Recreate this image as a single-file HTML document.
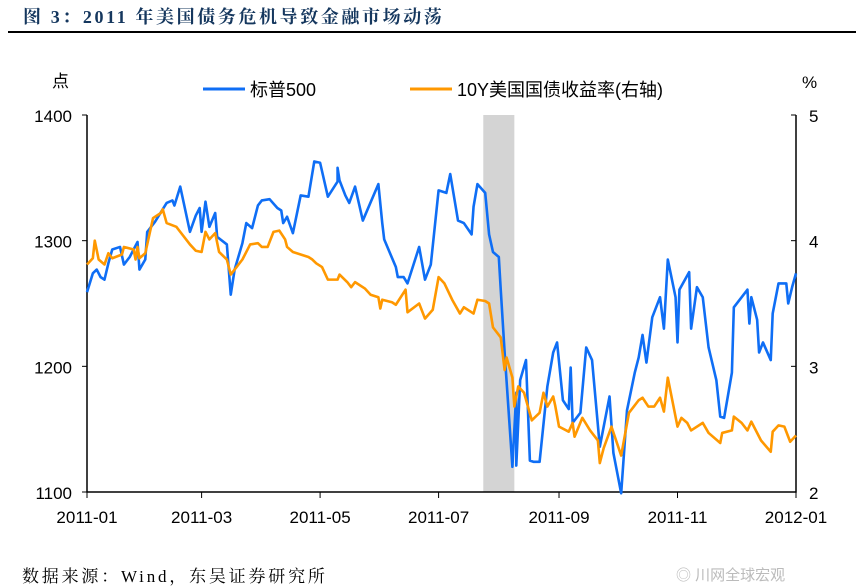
<!DOCTYPE html>
<html><head><meta charset="utf-8"><style>
body{margin:0;width:856px;height:588px;background:#fff;overflow:hidden;font-family:"Liberation Sans","Noto Sans CJK SC",sans-serif;}
#title{position:absolute;left:23px;top:3px;font:bold 18px "Liberation Serif","Noto Serif CJK SC",serif;letter-spacing:2.6px;color:#15375e;white-space:nowrap;}
#rule{position:absolute;left:8px;top:31px;width:848px;height:2px;background:#000;}
#src{position:absolute;left:22px;top:562px;font:17px "Liberation Serif","Noto Serif CJK SC",serif;letter-spacing:2.8px;color:#000;white-space:nowrap;}
#wm{position:absolute;left:676px;top:564px;font-size:15px;color:#bbb;}
</style></head><body>
<div id="title">图 3：2011 年美国债务危机导致金融市场动荡</div>
<div id="rule"></div>
<svg id="chart" width="856" height="588" style="position:absolute;left:0;top:0"></svg>
<div id="src">数据来源：Wind，东吴证券研究所</div>
<div id="wm">◎ 川网全球宏观</div>
<script>
const spxDays=[0,3,5,7,9,11,13,17,19,22,26,27,30,31,35,41,44,45,48,53,56,58,59,61,63,66,67,72,74,76,80,82,85,88,90,94,98,100,101,103,106,110,114,117,120,124,129,129,130,133,135,138,142,150,152,153,159,160,163,165,171,174,177,181,185,187,191,194,198,199,201,205,207,209,212,213,215,219,221,221,223,226,228,230,233,237,240,242,245,248,249,250,254,257,260,264,269,271,275,278,282,284,286,288,290,291,295,297,299,303,304,305,310,311,314,317,320,324,326,328,332,333,340,341,342,345,346,348,352,353,356,360,361,363,365];
const spxVals=[1259,1274,1277,1271,1269,1282,1293,1295,1281,1287,1299,1277,1285,1307,1315,1330,1332,1328,1343,1307,1320,1326,1307,1331,1311,1322,1303,1297,1257,1277,1298,1314,1310,1328,1332,1333,1326,1324,1314,1319,1306,1336,1335,1363,1362,1335,1347,1358,1348,1336,1330,1343,1316,1345,1314,1301,1279,1271,1271,1266,1295,1269,1281,1340,1338,1353,1316,1314,1305,1327,1345,1338,1305,1291,1287,1261,1211,1120,1179,1121,1189,1205,1125,1124,1124,1184,1211,1219,1173,1166,1199,1155,1163,1215,1205,1136,1176,1131,1099,1165,1195,1207,1225,1203,1227,1239,1255,1230,1285,1255,1219,1261,1275,1230,1263,1255,1215,1189,1160,1159,1195,1247,1261,1234,1255,1237,1211,1219,1205,1242,1266,1266,1250,1263,1274];
const ylDays=[0,3,4,6,9,11,13,18,19,24,25,26,27,30,34,38,39,41,46,48,53,56,59,61,63,66,68,72,74,77,80,84,88,90,93,96,99,102,103,106,110,114,116,118,121,124,129,130,134,136,138,143,146,150,151,152,157,159,164,165,171,174,178,181,184,188,192,194,199,201,205,207,209,213,215,216,219,220,222,225,229,233,235,237,240,241,243,248,250,251,255,259,263,264,266,270,275,279,284,286,289,292,295,297,299,304,306,309,311,317,320,326,327,332,333,337,340,342,347,352,353,356,359,362,365];
const ylVals=[3.81,3.86,4.00,3.85,3.81,3.90,3.86,3.89,3.95,3.93,3.85,3.95,3.86,3.90,4.18,4.22,4.25,4.14,4.11,4.07,3.97,3.92,3.91,4.07,4.01,4.06,3.91,3.85,3.73,3.79,3.85,3.97,3.98,3.95,3.95,4.07,4.08,4.01,3.95,3.91,3.89,3.87,3.85,3.82,3.79,3.69,3.69,3.73,3.67,3.63,3.67,3.62,3.57,3.55,3.46,3.53,3.51,3.49,3.61,3.43,3.50,3.38,3.45,3.71,3.66,3.53,3.42,3.47,3.42,3.53,3.52,3.50,3.31,3.23,2.97,3.07,2.91,2.68,2.84,2.79,2.57,2.63,2.79,2.68,2.76,2.69,2.52,2.48,2.55,2.44,2.59,2.49,2.41,2.23,2.35,2.52,2.29,2.63,2.73,2.75,2.68,2.68,2.75,2.64,2.91,2.52,2.59,2.55,2.49,2.55,2.47,2.39,2.47,2.49,2.60,2.55,2.49,2.56,2.41,2.32,2.48,2.53,2.52,2.40,2.45];
const leftTicks=[1100,1200,1300,1400];
const rightTicks=[2,3,4,5];
const monthDays=[0,59,120,181,243,304,365];
const monthLabels=["2011-01","2011-03","2011-05","2011-07","2011-09","2011-11","2012-01"];
const shade=[204,220];

const NS="http://www.w3.org/2000/svg";
const svg=document.getElementById('chart');
const X0=87,X1=796,YT=115,YB=492;
const xs=d=>X0+d/365*(X1-X0);
const yl=v=>YB-(v-1100)/300*(YB-YT);
const yr=v=>YB-(v-2)/3*(YB-YT);
function mk(t,a){const e=document.createElementNS(NS,t);for(const k in a)e.setAttribute(k,a[k]);svg.appendChild(e);return e;}

const sh=mk('rect',{x:xs(shade[0]),y:YT,width:xs(shade[1])-xs(shade[0]),height:YB-YT,fill:'#d4d4d4'});



const ax=mk('path',{d:`M${X0},${YT}V${YB}H${X1}V${YT}`,stroke:'#000','stroke-width':1.5,fill:'none'});



leftTicks.forEach(v=>{
  mk('line',{x1:X0-5,x2:X0,y1:yl(v),y2:yl(v),stroke:'#000'});
  const t=mk('text',{x:X0-15,y:yl(v)+7,'text-anchor':'end','font-size':17});
  t.textContent=v;
  
  
});
rightTicks.forEach(v=>{
  mk('line',{x1:X1-5,x2:X1,y1:yr(v),y2:yr(v),stroke:'#000'});
  const t=mk('text',{x:X1+13,y:yr(v)+7,'font-size':17});
  t.textContent=v;
  
  
});
monthDays.forEach((d,i)=>{
  mk('line',{x1:xs(d),x2:xs(d),y1:YB,y2:YB+6,stroke:'#000'});
  const t=mk('text',{x:xs(d),y:YB+31,'text-anchor':'middle','font-size':17});
  t.textContent=monthLabels[i];
  
  
});

const l1=mk('text',{x:52,y:87,'font-size':17});l1.textContent='点';


const l2=mk('text',{x:802,y:88,'font-size':17});l2.textContent='%';



const spx=mk('polyline',{points:spxDays.map((d,i)=>xs(d)+','+yl(spxVals[i])).join(' '),fill:'none',stroke:'#0f6ef5','stroke-width':2.6,'stroke-linejoin':'round'});


const yld=mk('polyline',{points:ylDays.map((d,i)=>xs(d)+','+yr(ylVals[i])).join(' '),fill:'none',stroke:'#ff9800','stroke-width':2.6,'stroke-linejoin':'round'});



mk('line',{x1:203,x2:245,y1:89,y2:89,stroke:'#0f6ef5','stroke-width':3});
const e1=mk('text',{x:250,y:96,'font-size':18});e1.textContent='标普500';


mk('line',{x1:410,x2:452,y1:89,y2:89,stroke:'#ff9800','stroke-width':3});
const e2=mk('text',{x:457,y:96,'font-size':18});e2.textContent='10Y美国国债收益率(右轴)';


</script>
</body></html>
